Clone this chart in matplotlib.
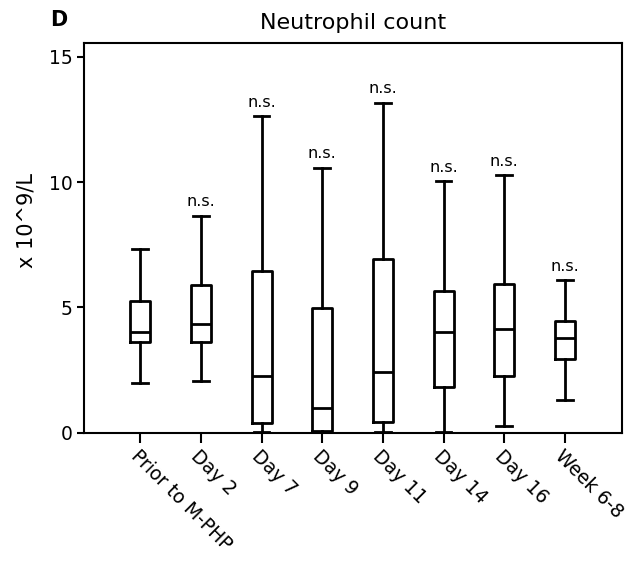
import matplotlib
matplotlib.use("Agg")
import matplotlib.pyplot as plt

plt.rcParams['font.family'] = ['DejaVu Sans']

categories = ["Prior to M-PHP", "Day 2", "Day 7", "Day 9", "Day 11", "Day 14", "Day 16", "Week 6-8"]
whisker_low = [1.98, 2.08, 0.05, 0.04, 0.05, 0.05, 0.28, 1.31]
q1 = [3.63, 3.63, 0.39, 0.08, 0.45, 1.83, 2.27, 2.95]
median = [4.04, 4.36, 2.28, 0.98, 2.44, 4.01, 4.13, 3.77]
q3 = [5.27, 5.90, 6.47, 4.99, 6.92, 5.67, 5.92, 4.46]
whisker_high = [7.32, 8.66, 12.62, 10.57, 13.16, 10.03, 10.28, 6.10]
annotations = ["", "n.s.", "n.s.", "n.s.", "n.s.", "n.s.", "n.s.", "n.s."]
yticks = [0, 5, 10, 15]

fig = plt.figure(figsize=(6.44, 5.70), dpi=100)
ax = fig.add_axes([0.1304, 0.2404, 0.8354, 0.6842])

stats = []
for i, c in enumerate(categories):
    stats.append(dict(label=c, whislo=whisker_low[i], q1=q1[i], med=median[i],
                      q3=q3[i], whishi=whisker_high[i], fliers=[]))

positions = list(range(1, len(categories) + 1))
lw = 2.0
ax.bxp(stats, positions=positions, widths=0.33, showfliers=False,
       boxprops=dict(color='black', linewidth=lw),
       medianprops=dict(color='black', linewidth=lw),
       whiskerprops=dict(color='black', linewidth=lw),
       capprops=dict(color='black', linewidth=lw),
       capwidths=0.26)

for p, t, h in zip(positions, annotations, whisker_high):
    if t:
        ax.text(p, h + 0.25, t, ha='center', va='bottom', fontsize=11.5)

ax.set_xlim(0.074, 8.94)
ax.set_ylim(0, 15.54)
ax.set_yticks(yticks)
ax.set_yticklabels([str(v) for v in yticks], fontsize=13.5)
ax.set_xticks(positions)
ax.set_xticklabels(categories, rotation=-45, ha='left', va='top',
                   rotation_mode='anchor', fontsize=13.5)
ax.tick_params(axis='y', length=5, width=1.5, direction='out', pad=3)
ax.tick_params(axis='x', length=7, width=1.5, direction='out', pad=3)
for s in ax.spines.values():
    s.set_linewidth(1.5)

ax.set_ylabel("x 10^9/L", fontsize=15)
ax.yaxis.set_label_coords(-0.088, 0.545)
ax.set_title("Neutrophil count", fontsize=16, pad=10)
fig.text(0.078, 0.965, "D", fontsize=15, fontweight='bold', ha='left', va='center')

fig.savefig("out.png", dpi=100)
